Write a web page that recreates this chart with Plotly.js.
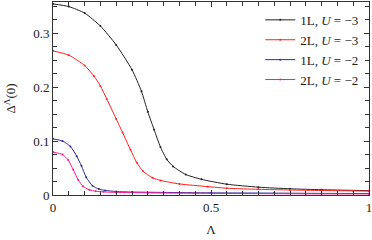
<!DOCTYPE html>
<html>
<head>
<meta charset="utf-8">
<script src="https://cdn.plot.ly/plotly-3.0.1.min.js"></script>
<style>html,body{margin:0;padding:0;background:#fff;}#chart{width:372px;height:240px;}</style>
</head>
<body>
<div id="chart"></div>
<script>
const seriesNames = ["1L, <i>U</i> = −3", "2L, <i>U</i> = −3", "1L, <i>U</i> = −2", "2L, <i>U</i> = −2"];

const lam1L3 = [0, 0.05, 0.1, 0.15, 0.2, 0.25, 0.28, 0.3, 0.32, 0.34, 0.36, 0.38, 0.42, 0.47, 0.55, 0.65, 0.75, 0.85, 1.0];
const val1L3 = [0.354, 0.349, 0.337, 0.313, 0.278, 0.232, 0.192, 0.154, 0.121, 0.089, 0.066, 0.053, 0.038, 0.029, 0.020, 0.0145, 0.0115, 0.0098, 0.008];

const lam2L3 = [0, 0.05, 0.1, 0.13, 0.15, 0.17, 0.2, 0.22, 0.245, 0.265, 0.285, 0.315, 0.34, 0.4, 0.49, 0.55, 0.65, 0.75, 0.85, 0.95, 1.0];
const val2L3 = [0.267, 0.259, 0.240, 0.220, 0.202, 0.178, 0.141, 0.116, 0.084, 0.060, 0.044, 0.032, 0.027, 0.0205, 0.0155, 0.0125, 0.0105, 0.0093, 0.0083, 0.0075, 0.0072];

const lam1L2 = [0, 0.03, 0.055, 0.075, 0.09, 0.105, 0.125, 0.145, 0.165, 0.2, 0.25, 0.35, 0.5, 0.7, 0.85, 1.0];
const val1L2 = [0.104, 0.100, 0.090, 0.072, 0.054, 0.033, 0.017, 0.011, 0.0085, 0.0065, 0.0055, 0.0048, 0.004, 0.0035, 0.003, 0.0028];

const lam2L2 = [0, 0.03, 0.048, 0.064, 0.08, 0.095, 0.115, 0.135, 0.16, 0.2, 0.3, 0.45, 0.6, 0.8, 1.0];
const val2L2 = [0.0795, 0.075, 0.065, 0.047, 0.028, 0.016, 0.0095, 0.007, 0.0058, 0.0048, 0.004, 0.0032, 0.0027, 0.0022, 0.002];

const colors = ["#222222", "#ff2020", "#2e2e9e", "#ff1493"];
const xs = [lam1L3, lam2L3, lam1L2, lam2L2];
const ys = [val1L3, val2L3, val1L2, val2L2];

const traces = xs.map((x, i) => ({
  x: x, y: ys[i], name: seriesNames[i], type: 'scatter', mode: 'lines+markers',
  line: {color: colors[i], width: 1, shape: 'spline', smoothing: 0.6},
  marker: {color: colors[i], size: 2}
}));

const font = {family: 'Liberation Serif, DejaVu Serif, serif', size: 13, color: '#222'};

const layout = {
  width: 372, height: 240,
  margin: {l: 53, r: 3, t: 2, b: 45},
  paper_bgcolor: '#fff', plot_bgcolor: '#fff',
  font: font,
  showlegend: true,
  legend: {x: 0.985, xanchor: 'right', y: 0.985, yanchor: 'top', bgcolor: 'rgba(0,0,0,0)', font: font, tracegroupgap: 0},
  xaxis: {
    range: [0, 1], tickvals: [0, 0.5, 1], ticktext: ['0', '0.5', '1'],
    ticklabeloverflow: 'allow',
    ticks: 'inside', ticklen: 5, tickcolor: '#333', showline: true, linecolor: '#333', linewidth: 1,
    mirror: 'ticks', showgrid: false, zeroline: false,
    minor: {dtick: 0.05, tick0: 0, ticks: 'inside', ticklen: 4, tickcolor: '#333', showgrid: false},
    title: {text: 'Λ', font: font, standoff: 11}
  },
  yaxis: {
    range: [0, 0.3575], tickvals: [0, 0.1, 0.2, 0.3], ticktext: ['0', '0.1', '0.2', '0.3'],
    ticks: 'inside', ticklen: 5, tickcolor: '#333', showline: true, linecolor: '#333', linewidth: 1,
    mirror: 'ticks', showgrid: false, zeroline: false,
    minor: {dtick: 0.025, tick0: 0, ticks: 'inside', ticklen: 4, tickcolor: '#333', showgrid: false},
    title: {text: 'Δ<sup>Λ</sup>(0)', font: font, standoff: 14}
  }
};

Plotly.newPlot('chart', traces, layout, {displayModeBar: false, staticPlot: true});
</script>
</body>
</html>
